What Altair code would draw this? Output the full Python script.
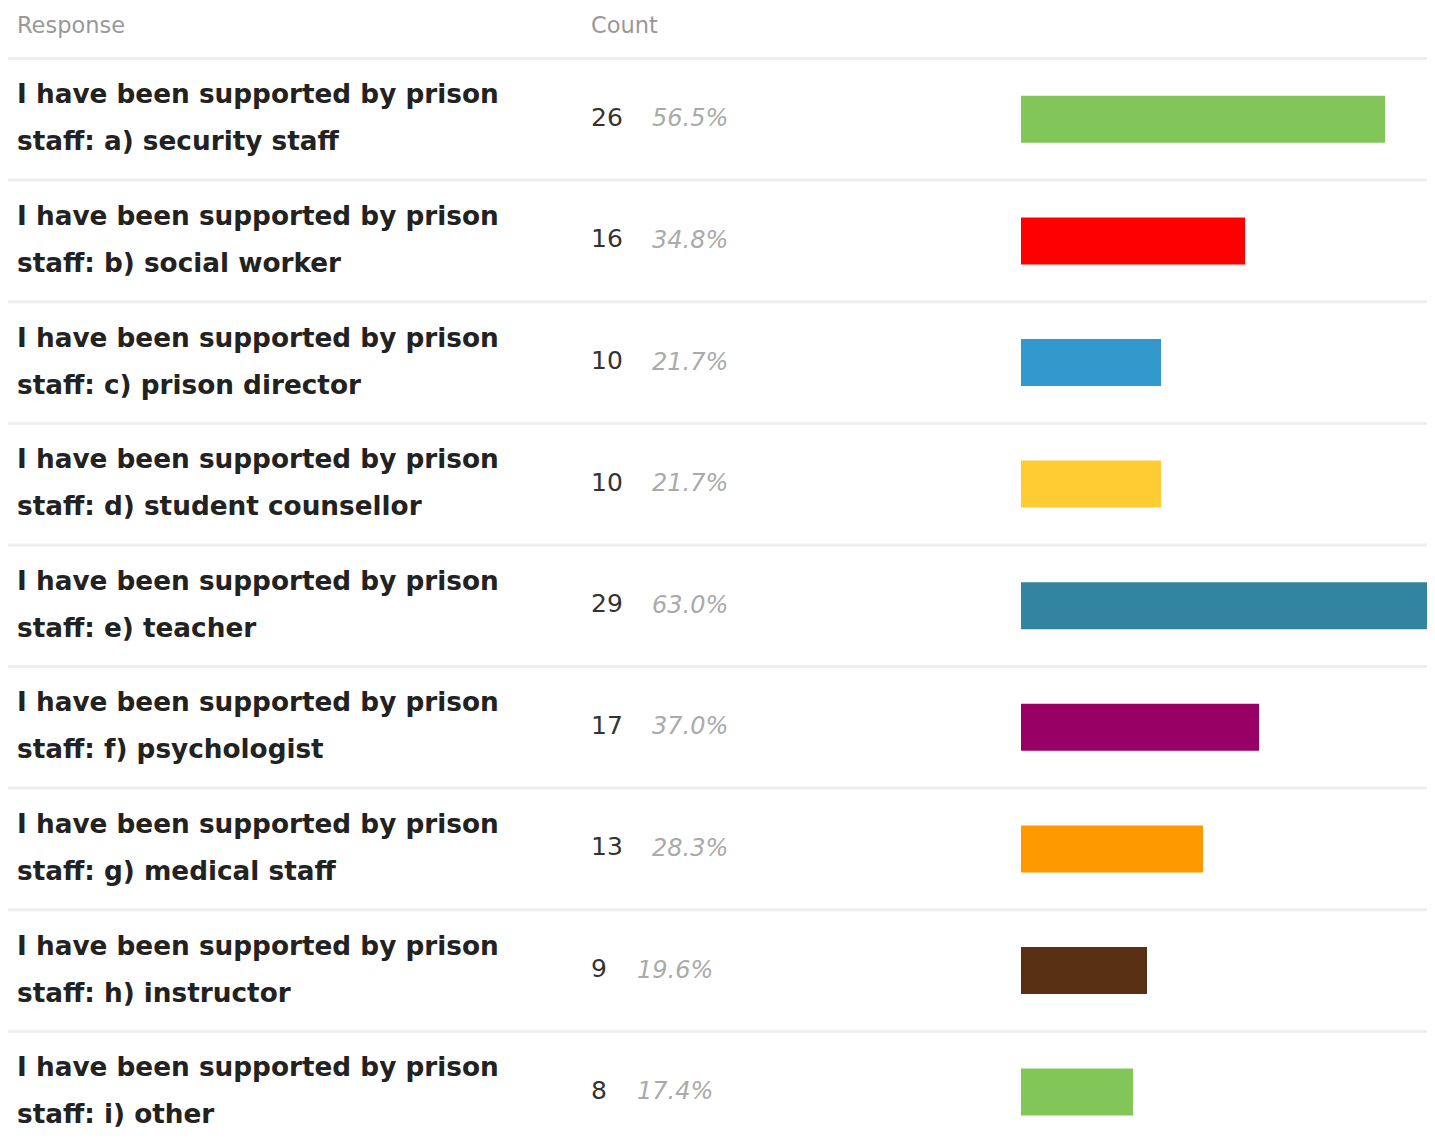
import altair as alt
import pandas as pd

prefix = "I have been supported by prison staff: "
options = ["a) security staff", "b) social worker", "c) prison director",
           "d) student counsellor", "e) teacher", "f) psychologist",
           "g) medical staff", "h) instructor", "i) other"]
counts = [26, 16, 10, 10, 29, 17, 13, 9, 8]
percents = [56.5, 34.8, 21.7, 21.7, 63.0, 37.0, 28.3, 19.6, 17.4]
colors = ["#82c65a", "#ff0000", "#3399cc", "#ffcc33", "#33849e",
          "#990066", "#ff9900", "#5a3014", "#82c65a"]
headers = ["Response", "Count"]

labels = [prefix + o for o in options]
df = pd.DataFrame({
    "label": labels,
    "display": [l.replace("prison ", "prison\n", 1) for l in labels],
    "count": counts,
    "pct": [f"{p:.1f}%" for p in percents],
    "ndig": [len(str(c)) for c in counts],
})

W, H = 1419, 1129
yscale = alt.Scale(domain=labels, range=[50.5, 50.5 + 9 * 121.6],
                   paddingInner=0, paddingOuter=0)
Y = alt.Y("label:N", scale=yscale, axis=None, sort=labels)

base = alt.Chart(df)

rules = base.mark_rule(color="#eeeeee", strokeWidth=3).encode(
    y=alt.Y("label:N", scale=yscale, axis=None, sort=labels, bandPosition=0),
    x=alt.value(0), x2=alt.value(W),
)

bars = base.mark_bar(height=47).encode(
    y=Y,
    x=alt.X("count:Q", scale=alt.Scale(domain=[0, 29], range=[1013, 1419]), axis=None),
    x2=alt.datum(0),
    color=alt.Color("label:N", scale=alt.Scale(domain=labels, range=colors), legend=None),
)

resp = base.mark_text(align="left", baseline="middle", font="DejaVu Sans",
                      fontWeight="bold", fontSize=26.3, dy=-24,
                      color="#222222", lineBreak="\n", lineHeight=47).encode(
    y=Y, x=alt.value(9), text="display:N",
)

cnt = base.mark_text(align="left", baseline="middle", font="DejaVu Sans",
                     fontSize=25, color="#333333", dy=-1.5).encode(
    y=Y, x=alt.value(583), text="count:Q",
)

pct = base.transform_calculate(px="629 + 15 * (datum.ndig - 1)").mark_text(
    align="left", baseline="middle", font="DejaVu Sans", fontStyle="italic",
    fontSize=24, color="#aaaaaa").encode(
    y=Y, x=alt.X("px:Q", scale=None), text="pct:N",
)

hdf = pd.DataFrame({"h": headers, "x": [9, 583]})
head = alt.Chart(hdf).mark_text(align="left", baseline="middle", font="DejaVu Sans",
                                fontSize=22.5, color="#999999").encode(
    x=alt.X("x:Q", scale=None), y=alt.value(18), text="h:N",
)

chart = alt.layer(rules, bars, resp, cnt, pct, head).properties(
    width=W, height=H, padding=0, autosize="none"
).configure_view(stroke=None)

chart.save("out.html", embed_options={"renderer": "svg", "actions": False})
